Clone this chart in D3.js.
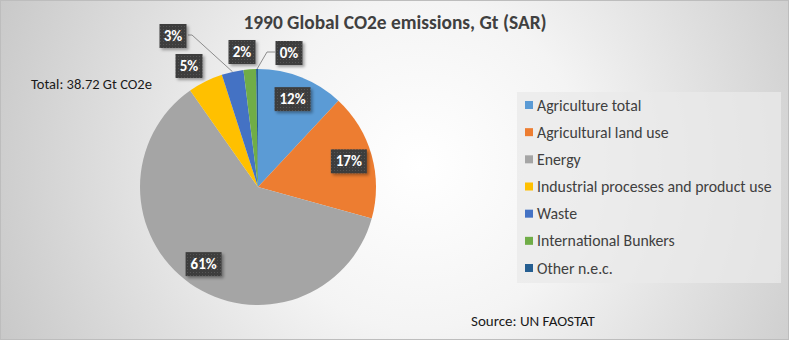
<!DOCTYPE html>
<html><head><meta charset="utf-8">
<script src="https://cdn.jsdelivr.net/npm/d3@7"></script>
<style>
html,body{margin:0;padding:0;background:#fff;}
svg{display:block;font-family:Carlito, Lato, "Liberation Sans", sans-serif;}
</style></head>
<body>
<script>
const categories = ["Agriculture total","Agricultural land use","Energy","Industrial processes and product use","Waste","International Bunkers","Other n.e.c."];
const values = [4.6, 6.7, 23.5, 1.85, 1.15, 0.66, 0.1];
const colors = ["#5b9bd5","#ed7d31","#a5a5a5","#ffc000","#4472c4","#70ad47","#255e91"];
const titleText = "1990 Global CO2e emissions, Gt (SAR)";
const totalText = "Total: 38.72 Gt CO2e";
const sourceText = "Source: UN FAOSTAT";

const W = 789, H = 340;
const svg = d3.select("body").append("svg").attr("width", W).attr("height", H);
const defs = svg.append("defs");
const rg = defs.append("radialGradient").attr("id","bg").attr("gradientUnits","userSpaceOnUse")
  .attr("cx",420).attr("cy",165).attr("r",470);
rg.append("stop").attr("offset","0%").attr("stop-color","#ffffff");
rg.append("stop").attr("offset","35%").attr("stop-color","#f4f4f4");
rg.append("stop").attr("offset","100%").attr("stop-color","#c6c6c6");
const sh = defs.append("filter").attr("id","sh").attr("x","-30%").attr("y","-30%").attr("width","170%").attr("height","170%");
sh.append("feDropShadow").attr("dx",2).attr("dy",2).attr("stdDeviation",1.5).attr("flood-color","#000").attr("flood-opacity",0.35);
const pat = defs.append("pattern").attr("id","dots").attr("width",3).attr("height",3).attr("patternUnits","userSpaceOnUse");
pat.append("rect").attr("width",3).attr("height",3).attr("fill","#3c3c3c");
pat.append("rect").attr("x",1).attr("y",1).attr("width",1).attr("height",1).attr("fill","#555");

svg.append("rect").attr("x",0.5).attr("y",0.5).attr("width",W-1).attr("height",H-1)
  .attr("fill","url(#bg)").attr("stroke","#bdbdbd");

svg.append("text").attr("x",395).attr("y",29).attr("text-anchor","middle")
  .attr("font-size",19.4).attr("font-weight","bold").attr("fill","#404040").text(titleText);

const cx = 258, cy = 187, R = 118;
const total = d3.sum(values);
const pie = d3.pie().sort(null).value(d => d);
const arcs = pie(values);
const arc = d3.arc().innerRadius(0).outerRadius(R);
const g = svg.append("g").attr("transform",`translate(${cx},${cy})`);
g.selectAll("path").data(arcs).join("path").attr("d",arc).attr("fill",(d,i)=>colors[i]);

// label placement: inside for big slices, outside (nudged) for small ones
const inner = d3.arc().innerRadius(R*0.8).outerRadius(R*0.8);
const nudges = [null,null,null,[-69,-121],[-85,-151],[-16,-135],[31,-134]];
const leaderTargets = [null,null,null,null,[-25,-117],null,[-1,-118]];
arcs.forEach((a,i)=>{
  const pct = Math.round(a.value/total*100) + "%";
  let x, y;
  if (nudges[i]) { [x,y] = nudges[i]; }
  else { [x,y] = inner.centroid(a); }
  if (leaderTargets[i]) {
    const mid = (a.startAngle+a.endAngle)/2;
    const ex = Math.sin(mid)*R, ey = -Math.cos(mid)*R;
    const bx = i===4 ? x+15 : x-14;
    const kx = i===4 ? bx+4 : bx-8;
    g.append("polyline").attr("points",`${bx},${y-1} ${kx},${y-1} ${ex},${ey}`)
      .attr("fill","none").attr("stroke","#8c8c8c").attr("stroke-width",1);
  }
  const w = pct.length>2 ? 36 : 27, h = 24;
  g.append("rect").attr("x",x-w/2).attr("y",y-h/2).attr("width",w).attr("height",h)
    .attr("fill","url(#dots)").attr("filter","url(#sh)");
  g.append("text").attr("x",x).attr("y",y+5).attr("text-anchor","middle")
    .attr("font-size",15).attr("font-weight","bold").attr("fill","#fff").text(pct);
});

svg.append("text").attr("x",31).attr("y",89).attr("font-size",14.5).attr("fill","#1a1a1a").text(totalText);

// legend
const lg = svg.append("g");
lg.append("rect").attr("x",517).attr("y",92).attr("width",264).attr("height",191).attr("fill","#e9e9e9").attr("opacity",0.75);
const ly = d3.scalePoint().domain(categories).range([105,268]);
categories.forEach((c,i)=>{
  lg.append("rect").attr("x",525).attr("y",ly(c)-4).attr("width",8).attr("height",8).attr("fill",colors[i]);
  lg.append("text").attr("x",537).attr("y",ly(c)+5.5).attr("font-size",15.8).attr("fill","#404040").text(c);
});

svg.append("text").attr("x",471).attr("y",326).attr("font-size",15).attr("fill","#1a1a1a").text(sourceText);
</script>
</body></html>
